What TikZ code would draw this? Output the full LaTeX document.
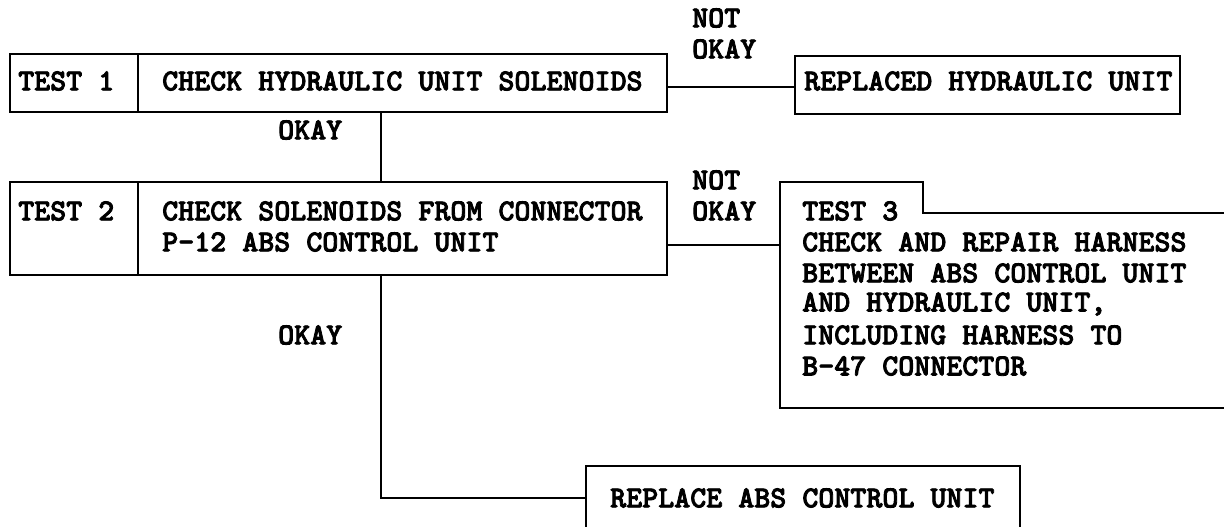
\documentclass[tikz,border=0pt]{standalone}
\usepackage{fontspec}
\newfontfamily\reffont{lmmonolt10-bold.otf}[FakeBold=2.6]
\begin{document}
\begin{tikzpicture}[x=1pt,y=-1pt,
  ln/.style={line width=2.3pt,line cap=rect},
  box/.style={draw,ln,rectangle,inner sep=0pt},
  txt/.style={font=\reffont\fontsize{30.5}{31}\selectfont,inner sep=0pt,anchor=west},
  lbl/.style={txt}]
\useasboundingbox (0,0) rectangle (1224,527);
% Box 1
\node[box,minimum width=657pt,minimum height=58pt] (b1) at (338.5,83) {};
\draw[ln] (138,54) -- (138,112);
\node[txt] (t1) at (18,81) {TEST 1};
\node[txt] (c1) at (162,81) {CHECK HYDRAULIC UNIT SOLENOIDS};
% Replaced hydraulic unit
\node[box,minimum width=385pt,minimum height=58pt] (rep) at (987.5,85) {};
\node[txt] (rept) at (804,81) {REPLACED HYDRAULIC UNIT};
\node[lbl] (no1) at (692,18) {NOT};
\node[lbl] (ok1) at (692,49) {OKAY};
\coordinate (j1) at (667,87);
\draw[ln] (j1) -- (j1 -| rep.west);
% OKAY 1
\node[lbl] (ok2) at (278,130) {OKAY};
% Box 2
\node[box,minimum width=657pt,minimum height=93pt] (b2) at (338.5,228.5) {};
\draw[ln] (138,182) -- (138,275);
\node[txt] (t2) at (18,211) {TEST 2};
\node[txt] (c2a) at (162,211) {CHECK SOLENOIDS FROM CONNECTOR};
\node[txt] (c2b) at (162,242) {P-12 ABS CONTROL UNIT};
\draw[ln] (b1.south -| 381,0) -- (b2.north -| 381,0);
% NOT OKAY 2
\node[lbl] (no2) at (692,180) {NOT};
\node[lbl] (ok3) at (692,211) {OKAY};
% Test 3 open box
\coordinate (t3w) at (780,245);
\draw[ln] (1224,213) -- (923,213) -- (923,182) -- (780,182) -- (780,408) -- (1224,408);
\draw[ln] (b2.east |- t3w) -- (t3w);
\node[txt] (t3a) at (802,211) {TEST 3};
\node[txt] (t3b) at (802,242) {CHECK AND REPAIR HARNESS};
\node[txt] (t3c) at (802,273) {BETWEEN ABS CONTROL UNIT};
\node[txt] (t3d) at (802,304) {AND HYDRAULIC UNIT,};
\node[txt] (t3e) at (802,335) {INCLUDING HARNESS TO};
\node[txt] (t3f) at (802,366) {B-47 CONNECTOR};
% OKAY 3
\node[lbl] (ok4) at (278,335) {OKAY};
% Replace ABS box (open at bottom)
\coordinate (rw) at (586,498);
\draw[ln] (586,527) -- (586,466) -- (1020,466) -- (1020,527);
\node[txt] (rt) at (610,498) {REPLACE ABS CONTROL UNIT};
\draw[ln] (b2.south -| 381,0) -- (381,498) -- (rw);
\end{tikzpicture}
\end{document}
